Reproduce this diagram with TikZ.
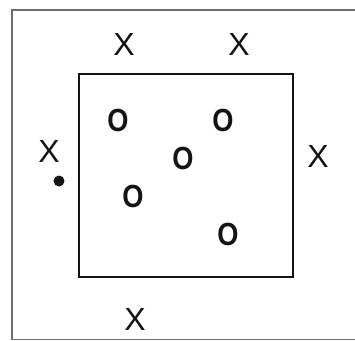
\documentclass[tikz,border=0pt]{standalone}
\usepackage{fontspec}
\setmainfont{Liberation Sans}
\usepackage{tikz}
\usetikzlibrary{positioning}
\definecolor{FrameGray}{RGB}{110,110,110}
\definecolor{InkBlack}{RGB}{20,20,20}
\tikzset{
  outerframe/.style={draw=FrameGray,line width=1.6pt},
  region/.style={draw=InkBlack,line width=1.6pt},
  xmark/.style={inner sep=0pt,text=InkBlack,font=\fontsize{32}{32}\selectfont},
  omark/.style={inner sep=0pt,text=InkBlack,font=\fontsize{32}{32}\selectfont\bfseries},
  query/.style={circle,fill=InkBlack,inner sep=0pt,minimum size=11pt}
}

\begin{document}
\begin{tikzpicture}[x=1pt,y=-1pt]
  \useasboundingbox (0,0) rectangle (355,340);
  \clip (0,0) rectangle (355,340);
  \draw[outerframe] (420,10) -- (12,10) -- (12,339.5) -- (420,339.5);
  \draw[region] (79,74) rectangle (293,277);
  % points outside the region
  \node[xmark] (xa) at (124,44) {X};
  \node[xmark] (xb) at (239,44) {X};
  \node[xmark] (xc) at (49,151) {X};
  \node[xmark] (xd) at (318,156) {X};
  \node[xmark] (xe) at (135,319) {X};
  % points inside the region
  \node[omark] (oa) at (118,120) {\scalebox{0.85}[1]{O}};
  \node[omark] (ob) at (223,120) {\scalebox{0.85}[1]{O}};
  \node[omark] (oc) at (183,158) {\scalebox{0.85}[1]{O}};
  \node[omark] (od) at (133,196) {\scalebox{0.85}[1]{O}};
  \node[omark] (oe) at (228,234) {\scalebox{0.85}[1]{O}};
  \node[query] (pt) at (59,181) {};
\end{tikzpicture}
\end{document}
